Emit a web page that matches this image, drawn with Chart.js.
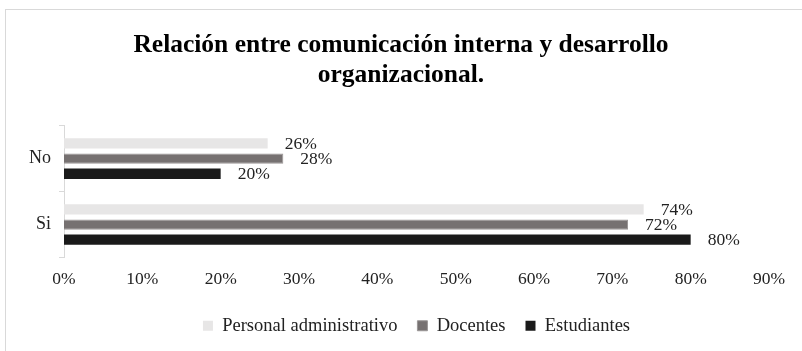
<!DOCTYPE html>
<html>
<head>
<meta charset="utf-8">
<script src="https://cdn.jsdelivr.net/npm/chart.js@4/dist/chart.umd.min.js"></script>
<style>
  html, body { margin: 0; padding: 0; background: #fff; overflow: hidden; }
  #frame { position: absolute; left: 5px; top: 9px; width: 900px; height: 400px; border: 1px solid #d9d9d9; }
  #wrap { position: absolute; left: 0; top: 0; width: 802px; height: 351px; }
</style>
</head>
<body>
<div id="frame"></div>
<div id="wrap"><canvas id="chart" width="802" height="351"></canvas></div>
<script>
// categories and series (percent)
const categories = ['No', 'Si'];
const personalAdministrativo = [26, 74];
const docentes = [28, 72];
const estudiantes = [20, 80];
const seriesNames = ['Personal administrativo', 'Docentes', 'Estudiantes'];
const xTicks = [0, 10, 20, 30, 40, 50, 60, 70, 80, 90];

const FONT = "'Liberation Serif', 'Times New Roman', serif";

// Draws the value labels next to the end of each bar
const valueLabels = {
    id: 'valueLabels',
    afterDatasetsDraw(chart) {
        const ctx = chart.ctx;
        ctx.save();
        ctx.font = '17.5px ' + FONT;
        ctx.fillStyle = '#222';
        ctx.textBaseline = 'middle';
        ctx.textAlign = 'left';
        chart.data.datasets.forEach((ds, i) => {
            const meta = chart.getDatasetMeta(i);
            meta.data.forEach((bar, j) => {
                ctx.fillText(ds.data[j] + '%', bar.x + 17, bar.y + 1);
            });
        });
        ctx.restore();
    }
};

new Chart(document.getElementById('chart'), {
    type: 'bar',
    data: {
        labels: categories,
        datasets: [
            { label: seriesNames[0], data: personalAdministrativo, backgroundColor: '#e7e6e6' },
            { label: seriesNames[1], data: docentes, backgroundColor: '#767171', borderColor: '#9a9696', borderWidth: 1 },
            { label: seriesNames[2], data: estudiantes, backgroundColor: '#1a1a1a' }
        ]
    },
    options: {
        indexAxis: 'y',
        responsive: false,
        animation: false,
        devicePixelRatio: 1,
        categoryPercentage: 0.69,
        barPercentage: 0.68,
        layout: { padding: { left: 0, right: 0, top: 0, bottom: 6 } },
        scales: {
            x: {
                min: 0,
                max: 90,
                afterBuildTicks: (scale) => { scale.ticks = xTicks.map(v => ({ value: v })); },
                afterFit: (scale) => { scale.height += 4; },
                ticks: {
                    callback: (v) => v + '%',
                    color: '#222',
                    font: { family: FONT, size: 17.5 },
                    padding: 3,
                    maxRotation: 0
                },
                grid: { display: false },
                border: { display: false }
            },
            y: {
                afterFit: (scale) => { scale.width = 64; },
                ticks: {
                    color: '#222',
                    font: { family: FONT, size: 18 },
                    padding: 8
                },
                grid: {
                    drawOnChartArea: false,
                    drawTicks: true,
                    tickLength: 5,
                    color: '#d9d9d9',
                    offset: true
                },
                border: { display: true, color: '#d9d9d9' }
            },
            // empty right-hand spacer so the plot ends at 90% like the original
            yRight: {
                axis: 'y',
                position: 'right',
                afterFit: (scale) => { scale.width = 33; },
                ticks: { display: false },
                grid: { display: false },
                border: { display: false }
            }
        },
        plugins: {
            title: {
                display: true,
                text: ['Relación entre comunicación interna y desarrollo', 'organizacional.'],
                color: '#000',
                font: { family: FONT, size: 25.5, weight: 'bold', lineHeight: 1.15 },
                padding: { top: 31, bottom: 36 }
            },
            legend: {
                position: 'bottom',
                fullSize: false,
                labels: {
                    color: '#222',
                    font: { family: FONT, size: 18.5 },
                    boxWidth: 10,
                    boxHeight: 10,
                    padding: 20
                }
            },
            tooltip: { enabled: false }
        }
    },
    plugins: [valueLabels]
});
</script>
</body>
</html>
